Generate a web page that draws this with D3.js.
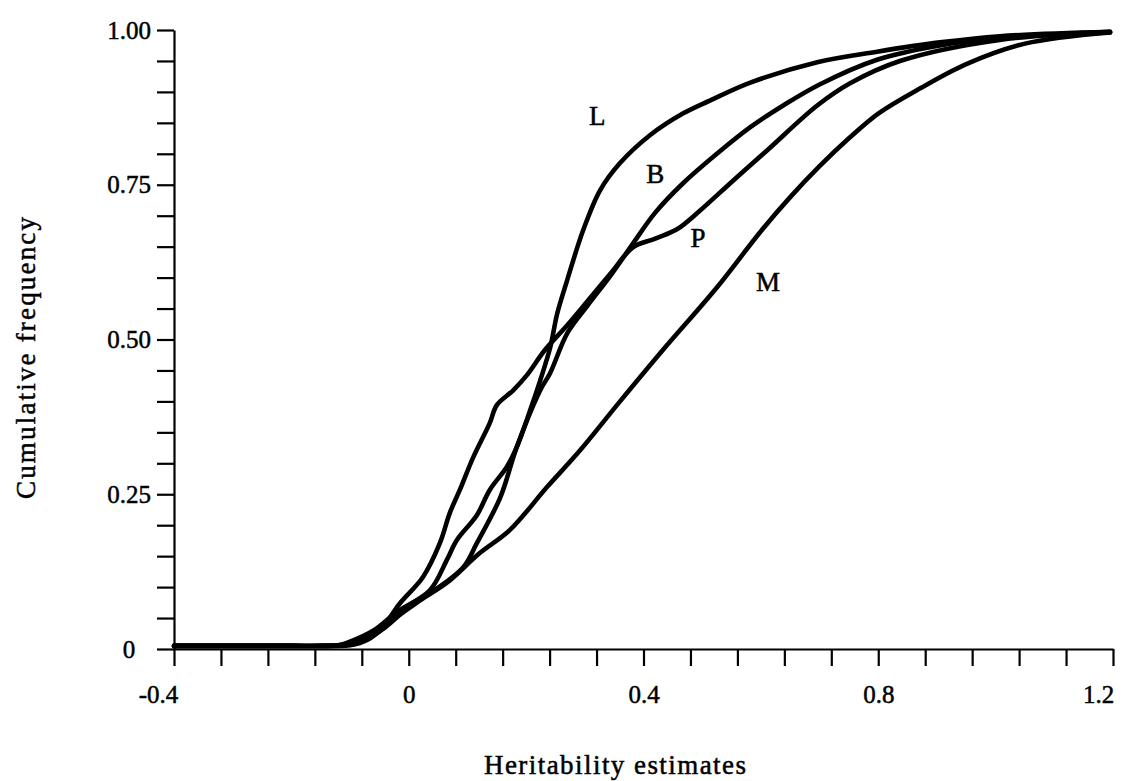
<!DOCTYPE html>
<html>
<head>
<meta charset="utf-8">
<script src="https://cdn.jsdelivr.net/npm/d3@7"></script>
<style>
    body { margin: 0; background: #fff; }
    svg text { font-family: "Liberation Serif", "Times New Roman", serif; fill: #000; stroke: #000; stroke-width: 0.5px; }
</style>
</head>
<body>
<svg id="chart" width="1128" height="781"></svg>
<script>
// cumulative frequency curves as [heritability, frequency]
const curveL = [[-0.4, 0.005], [-0.3, 0.005], [-0.2, 0.005], [-0.15, 0.005], [-0.12, 0.006], [-0.1, 0.012],
    [-0.06, 0.03], [-0.02, 0.06], [0.036, 0.095],
    [0.065, 0.144], [0.082, 0.176], [0.116, 0.216], [0.138, 0.257], [0.167, 0.294], [0.184, 0.326],
    [0.207, 0.386], [0.224, 0.434], [0.241, 0.487], [0.253, 0.542], [0.27, 0.596], [0.297, 0.676],
    [0.326, 0.741], [0.36, 0.785], [0.411, 0.83], [0.467, 0.865], [0.513, 0.886], [0.582, 0.915],
    [0.696, 0.948], [0.798, 0.965], [0.905, 0.98], [1.007, 0.99], [1.195, 0.997]];
const curveB = [[-0.4, 0.005], [-0.3, 0.005], [-0.2, 0.005], [-0.14, 0.005], [-0.11, 0.006], [-0.08, 0.012],
    [-0.04, 0.035], [0.007, 0.074], [0.036, 0.09],
    [0.093, 0.132], [0.116, 0.171], [0.156, 0.245], [0.184, 0.326], [0.224, 0.418], [0.241, 0.446],
    [0.27, 0.51], [0.304, 0.554], [0.346, 0.606], [0.382, 0.655], [0.42, 0.705], [0.467, 0.752],
    [0.525, 0.8], [0.582, 0.843], [0.638, 0.878], [0.7, 0.912], [0.798, 0.952], [0.905, 0.975],
    [1.007, 0.987], [1.195, 0.997]];
const curveP = [[-0.4, 0.005], [-0.3, 0.005], [-0.2, 0.005], [-0.15, 0.005], [-0.12, 0.006], [-0.09, 0.012],
    [-0.05, 0.03], [-0.015, 0.074], [0.024, 0.116],
    [0.053, 0.171], [0.07, 0.22], [0.087, 0.257], [0.11, 0.31], [0.138, 0.365], [0.15, 0.394],
    [0.178, 0.418], [0.201, 0.442], [0.232, 0.483], [0.27, 0.523], [0.309, 0.567], [0.346, 0.609],
    [0.382, 0.649], [0.42, 0.663], [0.457, 0.678], [0.496, 0.708], [0.553, 0.757], [0.61, 0.805],
    [0.696, 0.878], [0.752, 0.914], [0.837, 0.95], [1.007, 0.984], [1.195, 0.996]];
const curveM = [[-0.4, 0.005], [-0.3, 0.005], [-0.2, 0.005], [-0.13, 0.005], [-0.1, 0.006], [-0.07, 0.015],
    [-0.03, 0.045], [0.02, 0.079], [0.065, 0.107],
    [0.121, 0.155], [0.172, 0.192], [0.236, 0.262], [0.292, 0.321], [0.36, 0.4], [0.433, 0.483],
    [0.525, 0.584], [0.6, 0.675], [0.65, 0.73], [0.7, 0.78], [0.75, 0.825], [0.8, 0.865],
    [0.87, 0.905], [0.95, 0.945], [1.05, 0.978], [1.195, 0.996]];

const curveNames = ["L", "B", "P", "M"];
const curveLabelPos = [[0.321, 0.862], [0.42, 0.768], [0.493, 0.665], [0.612, 0.594]];

const xTickLabels = [-0.4, 0, 0.4, 0.8, 1.2];
const yTickLabels = [0, 0.25, 0.5, 0.75, 1.0];
const xMinorStep = 0.08;
const yMinorStep = 0.05;

const svg = d3.select("#chart");

const x = d3.scaleLinear().domain([-0.4, 1.2]).range([174, 1113]);
const y = d3.scaleLinear().domain([0, 1]).range([649, 30]);

const xTicks = d3.range(0, 21).map(i => Math.round((-0.4 + i * xMinorStep) * 100) / 100);
const yTicks = d3.range(0, 21).map(i => Math.round(i * yMinorStep * 100) / 100);

const xAxis = d3.axisBottom(x)
    .tickValues(xTicks)
    .tickSize(17)
    .tickSizeOuter(0)
    .tickFormat(d => xTickLabels.includes(d) ? String(d) : "");

const yAxis = d3.axisLeft(y)
    .tickValues(yTicks)
    .tickSize(17)
    .tickSizeOuter(0)
    .tickFormat(d => yTickLabels.includes(d) ? (d === 0 ? "0" : d3.format(".2f")(d)) : "");

const gx = svg.append("g")
    .attr("transform", `translate(0,${y(0)})`)
    .call(xAxis);
gx.selectAll("text")
    .attr("y", 46)
    .attr("dy", "0.32em")
    .style("font-size", "25px");
// end labels sit a little inside the tick in the original
gx.selectAll(".tick text").filter(d => d === -0.4).attr("dx", -16);
gx.selectAll(".tick text").filter(d => d === 1.2).attr("dx", -15);

const gy = svg.append("g")
    .attr("transform", `translate(${x(-0.4)},0)`)
    .call(yAxis);
gy.selectAll("text")
    .attr("x", -45)
    .attr("dy", "0.32em")
    .attr("text-anchor", "middle")
    .style("font-size", "25px");

svg.selectAll(".domain, .tick line")
    .attr("stroke", "#000")
    .attr("stroke-width", 2.2);

const line = d3.line()
    .x(d => x(d[0]))
    .y(d => y(d[1]))
    .curve(d3.curveCatmullRom.alpha(0.5));

svg.append("g")
    .selectAll("path")
    .data([curveL, curveB, curveP, curveM])
    .join("path")
    .attr("d", line)
    .attr("fill", "none")
    .attr("stroke", "#000")
    .attr("stroke-width", 4.6)
    .attr("stroke-linejoin", "round")
    .attr("stroke-linecap", "round");

svg.append("g")
    .selectAll("text")
    .data(curveNames)
    .join("text")
    .attr("x", (d, i) => x(curveLabelPos[i][0]))
    .attr("y", (d, i) => y(curveLabelPos[i][1]))
    .attr("dy", "0.35em")
    .attr("text-anchor", "middle")
    .style("font-size", "27px")
    .text(d => d);

svg.append("text")
    .attr("transform", "translate(26,358) rotate(-90)")
    .attr("text-anchor", "middle")
    .attr("dy", "0.35em")
    .attr("textLength", 282)
    .attr("lengthAdjust", "spacing")
    .style("font-size", "27px")
    .text("Cumulative frequency");

svg.append("text")
    .attr("x", 615)
    .attr("y", 765)
    .attr("text-anchor", "middle")
    .attr("dy", "0.35em")
    .attr("textLength", 262)
    .attr("lengthAdjust", "spacing")
    .style("font-size", "27px")
    .text("Heritability estimates");
</script>
</body>
</html>
